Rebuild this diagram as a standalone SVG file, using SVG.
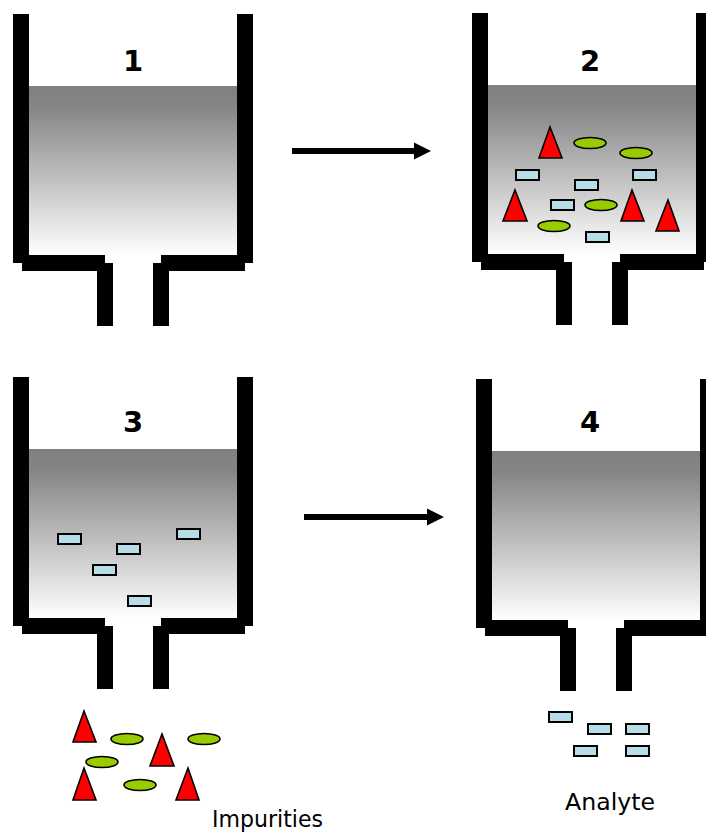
<svg xmlns="http://www.w3.org/2000/svg" width="706" height="836" viewBox="0 0 706 836">
  <style>
    .wall { fill: #000; }
    .liquid { fill: url(#liq); }
    .num { font-family: "DejaVu Sans", "Liberation Sans", sans-serif; font-weight: bold; font-size: 29px; fill: #000; text-anchor: middle; }
    .lbl { font-family: "DejaVu Sans", "Liberation Sans", sans-serif; font-size: 22.5px; fill: #000; }
    .tri { fill: #ff0000; stroke: #000; stroke-width: 1.6; stroke-linejoin: miter; }
    .ell { fill: #99cc00; stroke: #000; stroke-width: 1.6; }
    .box { fill: #b7dee8; stroke: #000; stroke-width: 2; }
    .conn { stroke: #000; stroke-width: 6; fill: none; }
  </style>
  <defs>
    <linearGradient id="liq" x1="0" y1="0" x2="0" y2="1">
      <stop offset="0" stop-color="#808080"/>
      <stop offset="0.12" stop-color="#858585"/>
      <stop offset="1" stop-color="#ffffff"/>
    </linearGradient>
    <g id="vessel">
      <rect class="liquid" x="16" y="72" width="208" height="170"/>
      <path class="wall" d="M0,0 H16 V241 H92 V249 H100 V312 H84 V257 H9 V249 H0 Z"/>
      <path class="wall" d="M224,0 H240 V249 H232 V257 H156 V312 H140 V249 H148 V241 H224 Z"/>
    </g>
    <marker id="head" markerUnits="userSpaceOnUse" markerWidth="18" markerHeight="18" viewBox="0 -9 18 18" refX="1" refY="0" orient="auto">
      <path d="M0,-8.5 L17,0 L0,8.5 Z" fill="#000"/>
    </marker>
  </defs>

  <g id="container1">
    <use href="#vessel" transform="translate(13,14)"/>
    <text class="num" x="133" y="71">1</text>
  </g>

  <g id="container2">
    <use href="#vessel" transform="translate(472,13)"/>
    <text class="num" x="590" y="71">2</text>
    <polygon class="tri" points="550,127 562,158 539,158"/>
    <polygon class="tri" points="515,190 527,221 503,221"/>
    <polygon class="tri" points="632,190 644,221 621,221"/>
    <polygon class="tri" points="668,200 679,231 656,231"/>
    <ellipse class="ell" cx="590" cy="143" rx="16" ry="5.5"/>
    <ellipse class="ell" cx="636" cy="153" rx="16" ry="5.5"/>
    <ellipse class="ell" cx="601" cy="205" rx="16" ry="5.5"/>
    <ellipse class="ell" cx="554" cy="226" rx="16" ry="5.5"/>
    <rect class="box" x="516" y="170" width="23" height="10"/>
    <rect class="box" x="575" y="180" width="23" height="10"/>
    <rect class="box" x="633" y="170" width="23" height="10"/>
    <rect class="box" x="551" y="200" width="23" height="10"/>
    <rect class="box" x="586" y="232" width="23" height="10"/>
  </g>

  <g id="container3">
    <use href="#vessel" transform="translate(13,377)"/>
    <text class="num" x="133" y="432">3</text>
    <rect class="box" x="58" y="534" width="23" height="10"/>
    <rect class="box" x="117" y="544" width="23" height="10"/>
    <rect class="box" x="177" y="529" width="23" height="10"/>
    <rect class="box" x="93" y="565" width="23" height="10"/>
    <rect class="box" x="128" y="596" width="23" height="10"/>
  </g>

  <g id="container4">
    <use href="#vessel" transform="translate(476,379)"/>
    <text class="num" x="590" y="432">4</text>
  </g>

  <g id="impurities">
    <polygon class="tri" points="84,711 96,742 73,742"/>
    <polygon class="tri" points="162,734 174,766 150,766"/>
    <polygon class="tri" points="84,768 96,800 73,800"/>
    <polygon class="tri" points="188,768 199,800 176,800"/>
    <ellipse class="ell" cx="127" cy="739" rx="16" ry="5.5"/>
    <ellipse class="ell" cx="204" cy="739" rx="16" ry="5.5"/>
    <ellipse class="ell" cx="102" cy="762" rx="16" ry="5.5"/>
    <ellipse class="ell" cx="140" cy="785" rx="16" ry="5.5"/>
    <text class="lbl" x="212" y="827" textLength="111" lengthAdjust="spacingAndGlyphs">Impurities</text>
  </g>

  <g id="analyte">
    <rect class="box" x="549" y="712" width="23" height="10"/>
    <rect class="box" x="588" y="724" width="23" height="10"/>
    <rect class="box" x="626" y="724" width="23" height="10"/>
    <rect class="box" x="574" y="746" width="23" height="10"/>
    <rect class="box" x="626" y="746" width="23" height="10"/>
    <text class="lbl" x="565" y="810" textLength="90" lengthAdjust="spacingAndGlyphs">Analyte</text>
  </g>

  <g id="connectors">
    <line class="conn" x1="292" y1="151" x2="415" y2="151" marker-end="url(#head)"/>
    <line class="conn" x1="304" y1="517" x2="428" y2="517" marker-end="url(#head)"/>
  </g>
</svg>
